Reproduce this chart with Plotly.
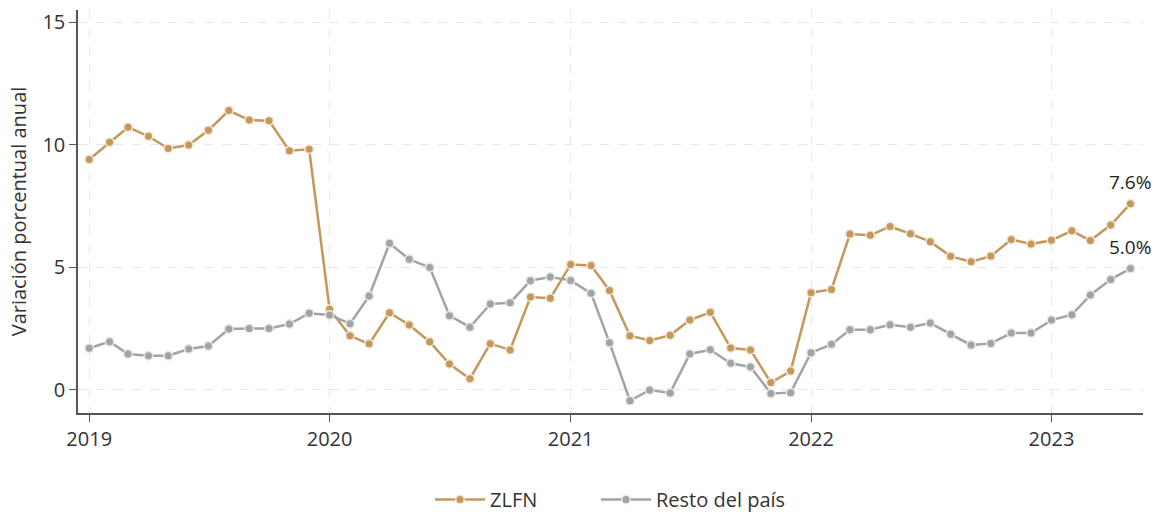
import pandas as pd
import plotly.graph_objects as go

dates = pd.date_range("2019-01-01", "2023-05-01", freq="MS")

zlfn = [9.40, 10.10, 10.72, 10.35, 9.85, 9.99, 10.59, 11.40, 11.01, 10.98, 9.76, 9.82,
        3.29, 2.21, 1.88, 3.15, 2.65, 1.97, 1.06, 0.46, 1.89, 1.63, 3.79, 3.74,
        5.12, 5.08, 4.06, 2.21, 2.02, 2.23, 2.85, 3.17, 1.71, 1.63, 0.30, 0.77,
        3.97, 4.10, 6.36, 6.31, 6.67, 6.37, 6.05, 5.45, 5.23, 5.46, 6.14, 5.95,
        6.11, 6.49, 6.10, 6.73, 7.60]

resto = [1.70, 1.97, 1.47, 1.40, 1.40, 1.67, 1.79, 2.49, 2.51, 2.51, 2.69, 3.13,
         3.06, 2.70, 3.83, 5.98, 5.33, 5.00, 3.03, 2.56, 3.51, 3.56, 4.46, 4.61,
         4.47, 3.94, 1.93, -0.44, 0.00, -0.12, 1.47, 1.64, 1.09, 0.94, -0.14, -0.11,
         1.52, 1.86, 2.46, 2.46, 2.66, 2.56, 2.73, 2.27, 1.83, 1.90, 2.32, 2.32,
         2.85, 3.07, 3.87, 4.51, 4.95]

series_names = ["ZLFN", "Resto del país"]
end_labels = ["7.6%", "5.0%"]
y_ticks = [0, 5, 10, 15]

c_zlfn = "#C4975A"
c_resto = "#A3A3A3"

fig = go.Figure()
for name, vals, col, halo, lg in [(series_names[0], zlfn, c_zlfn, "#F3E6D3", "legend"),
                                   (series_names[1], resto, c_resto, "#E6E6E6", "legend2")]:
    fig.add_trace(go.Scatter(
        x=dates, y=vals, name=name, mode="lines+markers", legend=lg,
        line=dict(color=col, width=2.5),
        marker=dict(size=8.5, color=col, line=dict(color=halo, width=1.5)),
    ))

for vals, lab in [(zlfn, end_labels[0]), (resto, end_labels[1])]:
    fig.add_annotation(x=dates[-1], y=vals[-1], text=lab, showarrow=False,
                       yshift=22, font=dict(size=19, color="#222222"))

font_family = "Open Sans, Noto Sans, sans-serif"
leg_common = dict(orientation="h", xref="container", xanchor="left",
                  yref="container", y=0.03, yanchor="middle",
                  font=dict(size=20, color="#333333"), itemwidth=50)
fig.update_layout(
    width=1174, height=515,
    margin=dict(l=78, r=31, t=10, b=102, autoexpand=False),
    paper_bgcolor="white", plot_bgcolor="white",
    font=dict(family=font_family, size=20, color="#333333"),
    showlegend=True,
    legend=dict(x=430 / 1174, **leg_common),
    legend2=dict(x=596 / 1174, **leg_common),
    xaxis=dict(
        range=["2018-12-15", "2023-05-20"],
        tickformat="%Y", dtick="M12", tick0="2019-01-01",
        showline=True, linecolor="#555555", linewidth=1.5,
        ticks="outside", ticklen=7, tickcolor="#555555",
        showgrid=True, gridcolor="#E8E8E8", griddash="dash", gridwidth=1,
        zeroline=False, automargin=False,
        tickfont=dict(size=20, color="#333333"),
    ),
    yaxis=dict(
        range=[-0.94, 15.5],
        tickvals=y_ticks,
        showline=True, linecolor="#555555", linewidth=1.5,
        ticks="outside", ticklen=7, tickcolor="#555555",
        showgrid=True, gridcolor="#E8E8E8", griddash="dash", gridwidth=1,
        zeroline=False, automargin=False,
        title=dict(text="Variación porcentual anual", font=dict(size=20, color="#333333"), standoff=10),
        tickfont=dict(size=20, color="#333333"),
    ),
)

fig.write_html("out.html", config={"displayModeBar": False},
               post_script="document.body.style.margin='0';document.body.style.overflow='hidden';")
